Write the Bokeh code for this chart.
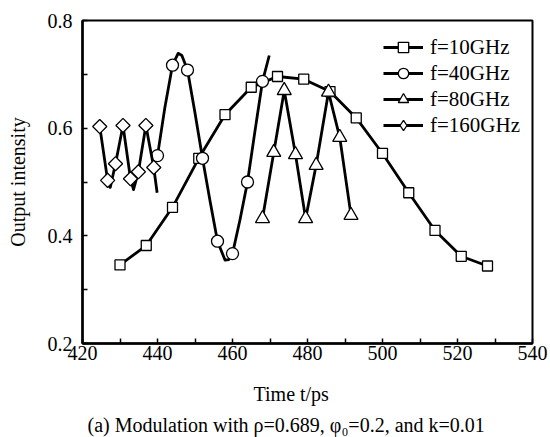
import numpy as np
from bokeh.plotting import figure
from bokeh.models import FixedTicker, Legend, LegendItem, Title, Range1d
from bokeh.embed import file_html
from bokeh.resources import INLINE

FONT = "Liberation Serif"

# ---- axis ticks / labels ----
x_ticks = [420, 440, 460, 480, 500, 520, 540]
x_minor = [430, 450, 470, 490, 510, 530]
y_ticks = [0.2, 0.4, 0.6, 0.8]
y_minor = [0.3, 0.5, 0.7]
x_label = "Time t/ps"
y_label = "Output intensity"
caption = "(a) Modulation with \u03c1=0.689, \u03c6\u2080=0.2, and k=0.01"
legend_labels = ["f=10GHz", "f=40GHz", "f=80GHz", "f=160GHz"]

# ---- f = 10 GHz (squares) ----
t_10 = [430, 437, 444, 451, 458, 465, 472, 479, 486, 493, 500, 507, 514, 521, 528]
y_10 = [0.346, 0.382, 0.453, 0.544, 0.625, 0.676, 0.696, 0.691, 0.668, 0.619,
        0.553, 0.480, 0.410, 0.362, 0.344]

# ---- f = 40 GHz (circles) ----
t_40 = [440, 444, 448, 452, 456, 460, 464, 468]
y_40 = [0.549, 0.717, 0.708, 0.544, 0.390, 0.367, 0.500, 0.687]
t_40_curve = [440, 442, 444, 445.5, 446.5, 448, 450, 452, 454, 456, 458, 459, 460,
              462, 464, 466, 468, 469.8]
y_40_curve = [0.549, 0.640, 0.717, 0.739, 0.735, 0.708, 0.628, 0.544, 0.465, 0.390,
              0.355, 0.356, 0.367, 0.430, 0.500, 0.595, 0.687, 0.735]

# ---- f = 80 GHz (triangles) ----
t_80 = [468, 471, 473.8, 476.8, 479.5, 482.3, 485.6, 488.6, 491.6]
y_80 = [0.432, 0.555, 0.670, 0.551, 0.432, 0.531, 0.667, 0.583, 0.438]

# ---- f = 160 GHz (diamonds) ----
t_160 = [424.6, 426.7, 428.8, 430.8, 432.8, 434.9, 436.9, 439.0]
y_160 = [0.603, 0.503, 0.534, 0.605, 0.506, 0.519, 0.605, 0.527]
t_160_curve = [424.6, 426.7, 427.4, 428.8, 430.8, 432.8, 433.6, 434.9, 436.9, 439.0, 439.9]
y_160_curve = [0.603, 0.503, 0.490, 0.534, 0.605, 0.506, 0.486, 0.519, 0.605, 0.527, 0.480]

p = figure(width=550, height=437,
           x_range=Range1d(420, 540), y_range=Range1d(0.2, 0.8),
           output_backend="svg", toolbar_location=None,
           min_border_left=82, min_border_right=18,
           min_border_top=20, min_border_bottom=94)

p.xgrid.visible = False
p.ygrid.visible = False
p.outline_line_color = "black"
p.outline_line_width = 2
p.outline_line_alpha = 1
p.background_fill_color = "white"
p.border_fill_color = "white"

for ax in (p.xaxis[0], p.yaxis[0]):
    ax.axis_line_width = 2.5
    ax.axis_line_color = "black"
    ax.major_tick_in = 5
    ax.major_tick_out = 0
    ax.minor_tick_in = 5
    ax.minor_tick_out = 0
    ax.major_tick_line_width = 1.5
    ax.minor_tick_line_width = 1.5
    ax.major_tick_line_color = "black"
    ax.minor_tick_line_color = "black"
    ax.major_label_text_font = FONT
    ax.major_label_text_font_size = "20px"
    ax.major_label_text_color = "black"

p.xaxis.ticker = FixedTicker(ticks=x_ticks, minor_ticks=x_minor)
p.yaxis.ticker = FixedTicker(ticks=y_ticks, minor_ticks=y_minor)
p.xaxis.major_label_standoff = 2
p.yaxis.major_label_standoff = 10

p.yaxis.axis_label = y_label
p.yaxis.axis_label_text_font = FONT
p.yaxis.axis_label_text_font_size = "20px"
p.yaxis.axis_label_text_font_style = "normal"
p.yaxis.axis_label_text_color = "black"
p.yaxis.axis_label_standoff = 16

p.add_layout(Title(text=x_label, align="left", offset=171, standoff=36,
                   text_font=FONT, text_font_size="20px", text_font_style="normal",
                   text_color="black"), "below")
p.add_layout(Title(text=caption, align="left", offset=5, standoff=-18,
                   vertical_align="top",
                   text_font=FONT, text_font_size="20px", text_font_style="normal",
                   text_color="black"), "below")

LW = 2.8
mk = dict(fill_color="white", line_color="black", line_width=1.3)

l10 = p.line(t_10, y_10, line_width=LW, color="black", line_join="round")
s10 = p.scatter(t_10, y_10, marker="square", size=10, **mk)

l40 = p.line(t_40_curve, y_40_curve, line_width=LW, color="black", line_join="round")
s40 = p.scatter(t_40, y_40, marker="circle", size=12, **mk)

l80 = p.line(t_80, y_80, line_width=LW, color="black", line_join="round")
s80 = p.scatter(t_80, y_80, marker="triangle", size=14, **mk)

l160 = p.line(t_160_curve, y_160_curve, line_width=LW, color="black", line_join="round")
s160 = p.scatter(t_160, y_160, marker="square", angle=np.pi / 4, size=10, **mk)
# legend-only sample for the diamond series (legend ignores marker angle); not drawn (NaN)
d160 = p.scatter(x=np.array([np.nan]), y=np.array([np.nan]), marker="diamond", size=14, **mk)

items = [LegendItem(label=legend_labels[0], renderers=[l10, s10]),
         LegendItem(label=legend_labels[1], renderers=[l40, s40]),
         LegendItem(label=legend_labels[2], renderers=[l80, s80]),
         LegendItem(label=legend_labels[3], renderers=[l160, d160])]

legend = Legend(items=items, location=(301, 205), padding=0, margin=0, spacing=0,
                glyph_width=40, glyph_height=26, label_height=20, label_standoff=7,
                label_text_font=FONT, label_text_font_size="21px",
                label_text_color="black",
                border_line_color=None, background_fill_alpha=0)
p.add_layout(legend)

open("out.html", "w").write(file_html(p, INLINE))
